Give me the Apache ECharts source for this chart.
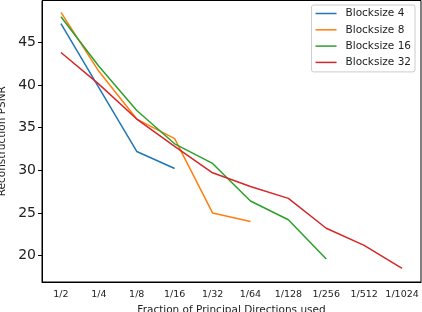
<!DOCTYPE html>
<html>
<head>
<meta charset="utf-8">
<script src="https://cdn.jsdelivr.net/npm/echarts@6/dist/echarts.min.js"></script>
<style>
  html, body { margin: 0; padding: 0; background: #fff; }
  #chart { width: 422px; height: 312px; }
</style>
</head>
<body>
<div id="chart"></div>
<script>
var fractions = ['1/2', '1/4', '1/8', '1/16', '1/32', '1/64', '1/128', '1/256', '1/512', '1/1024'];
var yTicks = [20, 25, 30, 35, 40, 45];

var block4 = [47.2, 39.7, 32.2, 30.2];
var block8 = [48.5, 41.6, 36.0, 33.7, 25.0, 24.0];
var block16 = [48.0, 42.2, 37.0, 33.1, 30.8, 26.4, 24.2, 19.6];
var block32 = [43.8, 40.1, 36.0, 32.8, 29.7, 28.1, 26.7, 23.2, 21.2, 18.5];

var names = ['Blocksize 4', 'Blocksize 8', 'Blocksize 16', 'Blocksize 32'];
var colors = ['#1f77b4', '#ff7f0e', '#2ca02c', '#d62728'];
var seriesData = [block4, block8, block16, block32];

var chart = echarts.init(document.getElementById('chart'));

var option = {
  animation: false,
  textStyle: { fontFamily: 'DejaVu Sans' },
  grid: {
    left: 42, right: 1, top: 0.5, bottom: 30,
    outerBoundsMode: 'none',
    containLabel: false,
    show: true, borderColor: '#000', borderWidth: 1
  },
  legend: {
    orient: 'vertical',
    right: 7, top: 5,
    icon: 'rect',
    itemWidth: 21, itemHeight: 1.5,
    itemGap: 5.3,
    padding: [3, 4, 4, 4],
    borderColor: '#ccc', borderWidth: 1, borderRadius: 2,
    backgroundColor: '#fff',
    textStyle: { fontSize: 10.5, color: '#222', padding: [0, 0, 0, 4] },
    data: names
  },
  xAxis: {
    type: 'category',
    data: fractions,
    boundaryGap: true,
    name: 'Fraction of Principal Directions used',
    nameLocation: 'middle',
    nameGap: 20,
    nameTextStyle: { fontSize: 10.5, color: '#222' },
    axisLine: { lineStyle: { color: '#000' } },
    axisTick: { alignWithLabel: true, length: 4, lineStyle: { color: '#000' } },
    axisLabel: { fontSize: 9.5, color: '#222', margin: 8, interval: 0 },
    splitLine: { show: false }
  },
  yAxis: {
    type: 'value',
    min: 16.9, max: 49.9,
    name: 'Reconstruction PSNR',
    nameLocation: 'middle',
    nameGap: 33,
    nameTextStyle: { fontSize: 10.5, color: '#222' },
    axisLine: { show: true, lineStyle: { color: '#000' } },
    axisTick: { show: true, length: 4, customValues: yTicks, lineStyle: { color: '#000' } },
    axisLabel: { fontSize: 14, color: '#222', margin: 6, customValues: yTicks },
    splitLine: { show: false }
  },
  series: seriesData.map(function (d, i) {
    return {
      name: names[i],
      type: 'line',
      data: d,
      symbol: 'none',
      lineStyle: { width: 1.5, color: colors[i] },
      itemStyle: { color: colors[i] }
    };
  })
};

chart.setOption(option);
</script>
</body>
</html>
